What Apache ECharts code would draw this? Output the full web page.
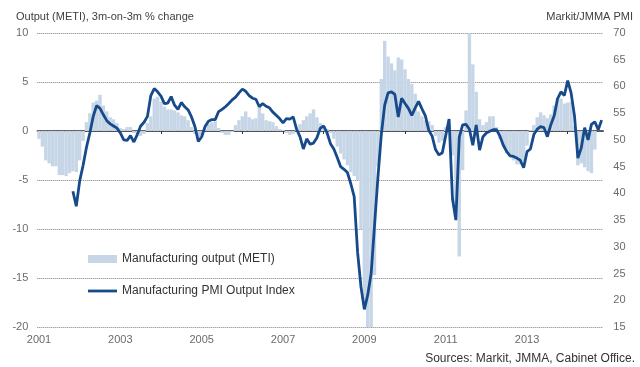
<!DOCTYPE html>
<html><head><meta charset="utf-8">
<script src="https://cdn.jsdelivr.net/npm/echarts@6/dist/echarts.min.js"></script>
<style>html,body{margin:0;padding:0;background:#fff}#c{width:640px;height:367px}</style>
</head><body><div id="c"></div>
<script>
// Months Jan 2001 .. Nov 2014
const firstYear = 2001;
const monthCount = 167;
const categories = [];
for (let i = 0; i < monthCount; i++) {
  const y = firstYear + Math.floor(i / 12), m = i % 12 + 1;
  categories.push(y + '-' + (m < 10 ? '0' : '') + m);
}
const labelYears = ['2001', '2003', '2005', '2007', '2009', '2011', '2013'];

// Manufacturing output (METI), 3m-on-3m % change
const metiOutput = [
  -0.8, -1.6, -3.0, -3.3, -3.6, -3.6, -4.5, -4.5, -4.6, -4.3, -4.1, -4.2,   // 2001
  -3.0, -1.0, 0.9, 1.8, 2.9, 3.1, 3.7, 2.6, 2.0, 1.4, 1.2, 0.8,             // 2002
  0.3, 0.2, 0.4, 0.4, -0.2, -0.3, -0.5, -0.3, 0.8, 1.5, 3.3, 3.5,           // 2003
  3.0, 2.5, 2.2, 2.2, 2.1, 1.9, 1.6, 1.5, 1.1, 0.4, -0.3, -0.6,             // 2004
  -0.4, 0.2, 0.7, 0.9, 1.0, 0.3, -0.2, -0.4, -0.4, -0.1, 0.6, 1.1,          // 2005
  1.5, 2.0, 1.4, 1.2, 1.3, 2.4, 1.8, 1.1, 1.0, 0.9, 0.5, 0.2,               // 2006
  0.1, -0.2, -0.4, -0.3, 0.4, 0.7, 1.1, 1.5, 1.8, 2.2, 1.4, 0.8,            // 2007
  0.5, 0.2, -0.2, -0.8, -1.6, -2.3, -2.9, -3.5, -4.2, -4.6, -5.0, -10.0,    // 2008
  -17.5, -21.5, -21.0, -14.7, -3.6, 5.3, 9.2, 7.6, 6.9, 6.2, 7.5, 7.3,      // 2009
  6.3, 5.3, 4.8, 3.8, 2.0, 1.5, 1.1, 1.0, 0.6, -0.5, -1.2, -1.0,            // 2010
  0.4, 0.6, -2.5, -7.5, -12.8, -4.0, 2.1, 10.5, 6.8, 4.0, 1.2, 0.6,         // 2011
  0.9, 1.5, 1.5, 0.4, -0.8, -1.5, -2.2, -2.6, -3.0, -3.4, -3.4, -3.1,       // 2012
  -1.5, 0.1, 0.6, 1.4, 1.9, 1.6, 1.3, 1.7, 2.6, 3.4, 3.3, 2.8,              // 2013
  2.9, 3.0, 0.5, -3.5, -3.3, -3.7, -4.1, -4.3, -1.9, null, null             // 2014
];

// Manufacturing PMI Output Index (Markit/JMMA)
const pmiOutput = [
  null, null, null, null, null, null, null, null, null, null, 40.4, 37.6,   // 2001
  42.3, 45.2, 48.6, 51.3, 54.4, 56.4, 55.9, 54.7, 53.6, 53.0, 52.6, 52.2,   // 2002
  51.3, 50.0, 49.9, 50.8, 49.6, 51.0, 52.6, 53.3, 54.4, 58.3, 59.6, 59.0,   // 2003
  58.2, 56.8, 56.9, 58.1, 56.5, 55.7, 57.0, 56.2, 55.6, 54.3, 52.5, 49.7,   // 2004
  50.6, 52.5, 53.5, 53.8, 53.8, 55.3, 55.7, 56.2, 56.8, 57.5, 58.0, 58.8,   // 2005
  59.5, 59.1, 58.3, 57.8, 57.6, 56.2, 56.8, 56.3, 56.0, 55.2, 54.6, 54.0,   // 2006
  53.2, 54.0, 53.9, 54.3, 52.0, 50.6, 48.3, 50.2, 49.2, 49.4, 50.4, 52.2,   // 2007
  52.6, 51.3, 49.3, 48.3, 46.7, 45.0, 44.5, 43.9, 41.8, 39.4, 29.0, 22.5,   // 2008
  18.3, 21.0, 25.0, 34.0, 43.0, 51.0, 56.5, 58.8, 59.0, 58.5, 54.3, 57.8,   // 2009
  56.8, 55.9, 54.6, 56.0, 57.2, 55.8, 54.5, 51.8, 50.7, 48.2, 47.2, 47.6,   // 2010
  50.8, 53.9, 39.0, 35.0, 50.5, 52.8, 52.9, 52.0, 49.0, 52.8, 48.1, 50.6,   // 2011
  51.3, 51.6, 51.9, 51.9, 50.7, 49.0, 47.8, 47.0, 46.9, 46.6, 46.2, 44.8,   // 2012
  47.8, 48.3, 51.0, 52.0, 52.5, 52.3, 50.6, 52.8, 54.5, 57.7, 59.0, 58.3,   // 2013
  61.1, 58.8, 54.5, 46.6, 48.5, 52.3, 50.0, 52.9, 53.4, 51.9, 53.7          // 2014
];

const leftAxis = { min: -20, max: 10, interval: 5 };
const rightAxis = { min: 15, max: 70, interval: 5 };
const barName = 'Manufacturing output (METI)';
const lineName = 'Manufacturing PMI Output Index';

const FONT = '"Liberation Sans", Arial, sans-serif';
const chart = echarts.init(document.getElementById('c'), null, { renderer: 'canvas' });
chart.setOption({
  animation: false,
  backgroundColor: '#ffffff',
  grid: { left: 37.3, right: 36.7, top: 33, bottom: 40, containLabel: false },
  legend: {
    orient: 'vertical', left: 83, top: 248, itemGap: 20,
    itemWidth: 29, itemHeight: 8,
    textStyle: { fontFamily: FONT, fontSize: 12, color: '#333333' },
    data: [
      { name: barName, icon: 'rect' },
      { name: lineName, icon: 'path://M0,0 L290,0 L290,28 L0,28 Z' }
    ]
  },
  xAxis: [
    {
      type: 'category', data: categories, boundaryGap: true, position: 'bottom',
      axisLine: { show: false, onZero: false },
      axisTick: { show: false },
      splitLine: { show: false },
      axisLabel: {
        interval: (idx, val) => val.endsWith('-01') && labelYears.includes(val.slice(0, 4)),
        formatter: v => v.slice(0, 4),
        margin: 7, fontFamily: FONT, fontSize: 11, color: '#6b6b6b'
      }
    },
    {
      type: 'category', data: categories, boundaryGap: true, position: 'bottom',
      axisLine: { show: true, onZero: true, onZeroAxisIndex: 0, lineStyle: { color: '#333333', width: 1.5 } },
      axisTick: { show: true, alignWithLabel: true, length: 3, interval: (idx, val) => val.endsWith('-01'), lineStyle: { color: '#333333', width: 1 } },
      axisLabel: { show: false },
      splitLine: { show: false }
    }
  ],
  yAxis: [
    {
      type: 'value', position: 'left', min: leftAxis.min, max: leftAxis.max, interval: leftAxis.interval,
      axisLine: { show: false }, axisTick: { show: false },
      splitLine: { show: true, lineStyle: { color: '#7a7a7a', type: 'dotted', width: 1 } },
      axisLabel: { margin: 9, fontFamily: FONT, fontSize: 11, color: '#6b6b6b' }
    },
    {
      type: 'value', position: 'right', min: rightAxis.min, max: rightAxis.max, interval: rightAxis.interval,
      axisLine: { show: false }, axisTick: { show: false },
      splitLine: { show: false },
      axisLabel: { margin: 10, fontFamily: FONT, fontSize: 11, color: '#6b6b6b' }
    }
  ],
  series: [
    {
      name: barName, type: 'bar', xAxisIndex: 0, yAxisIndex: 0,
      data: metiOutput, barCategoryGap: '0%', barGap: '0%',
      itemStyle: { color: '#c6d6e6' }, z: 1, clip: true
    },
    {
      name: lineName, type: 'line', xAxisIndex: 0, yAxisIndex: 1,
      data: pmiOutput, symbol: 'none', showSymbol: false, connectNulls: false,
      lineStyle: { color: '#174a8b', width: 2.8 }, itemStyle: { color: '#174a8b' }, z: 3
    }
  ],
  graphic: [
    { type: 'text', left: 16, top: 11, style: { text: 'Output (METI), 3m-on-3m % change', font: '11px ' + FONT, fill: '#404040' } },
    { type: 'text', right: 7, top: 11, style: { text: 'Markit/JMMA PMI', font: '11px ' + FONT, fill: '#404040' } },
    { type: 'text', right: 5, top: 353, style: { text: 'Sources: Markit, JMMA, Cabinet Office.', font: '12px ' + FONT, fill: '#333333' } }
  ]
});
</script>
</body></html>
